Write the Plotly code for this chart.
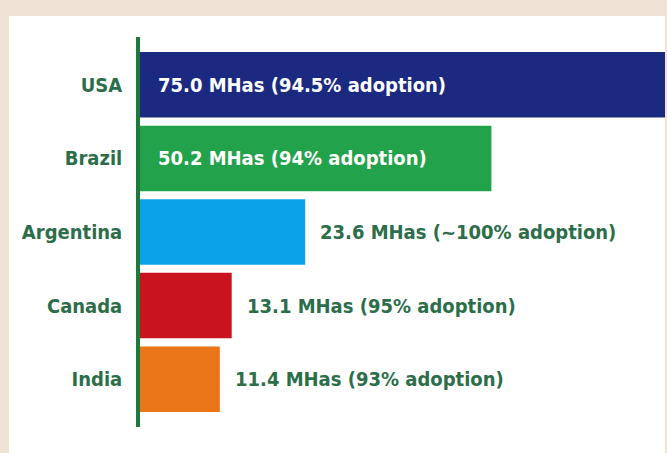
import plotly.graph_objects as go

countries = ["USA", "Brazil", "Argentina", "Canada", "India"]
area_mha = [75.0, 50.2, 23.6, 13.1, 11.4]
adoption = ["94.5%", "94%", "~100%", "95%", "93%"]
bar_colors = ["#1b2a80", "#22a24a", "#0ba2ea", "#c9141f", "#ea7418"]
label_inside = [True, True, False, False, False]

FONT = "DejaVu Sans Condensed"
GREEN_TXT = "#2c6e4a"

fig = go.Figure()
fig.add_trace(go.Bar(
    y=countries, x=area_mha, orientation="h",
    marker=dict(color=bar_colors, line=dict(width=0)),
    width=0.89, hoverinfo="skip",
))

for c, v, a, inside in zip(countries, area_mha, adoption, label_inside):
    txt = f"<b>{v:.1f} MHas ({a} adoption)</b>"
    if inside:
        fig.add_annotation(x=0, y=c, text=txt, xanchor="left", showarrow=False,
                           xshift=16, font=dict(family=FONT, size=20, color="white"))
    else:
        fig.add_annotation(x=v, y=c, text=txt, xanchor="left", showarrow=False,
                           xshift=13, font=dict(family=FONT, size=20, color=GREEN_TXT))

W, H = 667, 453
L, R, T, B = 140, 2, 37, 26
pw = W - L - R
ph = H - T - B
def px(xp):
    return (xp - L) / pw
def py(yp):
    return (H - B - yp) / ph

fig.add_shape(type="rect", xref="paper", yref="paper", layer="below",
              x0=px(9), x1=px(665), y0=py(16), y1=py(460),
              fillcolor="white", line=dict(width=0))

fig.update_layout(
    width=W, height=H,
    margin=dict(l=L, r=R, t=T, b=B),
    paper_bgcolor="#f0e3d6",
    plot_bgcolor="white",
    showlegend=False,
    xaxis=dict(range=[0, 75], visible=False, fixedrange=True),
    yaxis=dict(
        categoryorder="array", categoryarray=countries,
        range=[4.65, -0.65],
        showline=True, linecolor="#1d7a3a", linewidth=3.5,
        showgrid=False, zeroline=False,
        ticks="outside", ticklen=10, tickcolor="rgba(0,0,0,0)",
        tickfont=dict(family=FONT, size=20, color=GREEN_TXT),
        tickprefix="<b>", ticksuffix="</b>",
    ),
)

fig.write_html("out.html", config={"displayModeBar": False},
               post_script="document.body.style.margin='0';document.body.style.overflow='hidden';")
